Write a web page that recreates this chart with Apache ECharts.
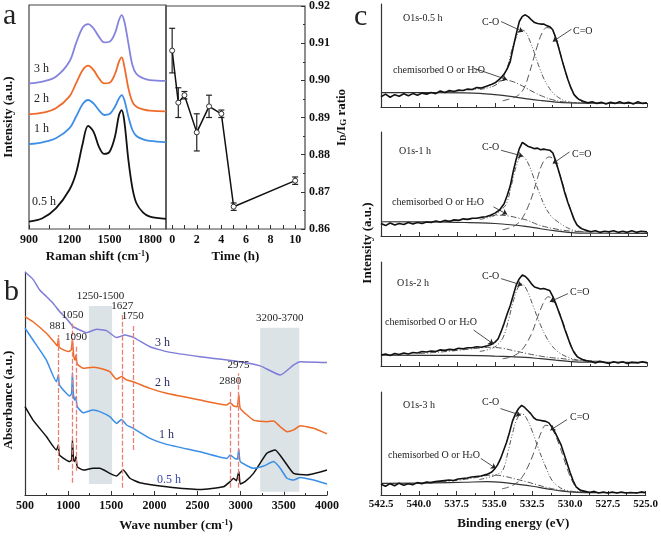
<!DOCTYPE html>
<html>
<head>
<meta charset="utf-8">
<script src="https://cdn.jsdelivr.net/npm/echarts@6/dist/echarts.min.js"></script>
<style>
html, body { margin: 0; padding: 0; background: #fff; }
#chart { width: 661px; height: 536px; }
</style>
</head>
<body>
<div id="chart"></div>
<script>
// panel a (left): Raman spectra, read at common shifts
const ramanShift = [900,1000,1100,1200,1250,1300,1340,1380,1420,1460,1500,1540,1570,1590,1610,1640,1670,1700,1750,1800,1920];
const raman05 = [3.3,4.8,9.2,17.4,24.9,38.2,46,43.5,36.8,33.5,34.5,41.2,50.9,53.1,47.9,30.8,18.2,11.5,7.3,5.5,4.5];
const raman1 = [37.9,38.7,40.5,44.9,50.1,55.8,57.6,56.1,53.1,50.9,51.3,54.6,58.3,59.8,57.6,50.1,44.2,41.5,40,39.3,38.7];
const raman2 = [51.2,51.9,53.9,59.1,65,71,72.9,71,67.3,65,65.3,69.2,74.7,76.6,72.5,62.8,56.8,54.6,53.4,52.8,52.5];
const raman3 = [65,65.8,68,74.7,82.9,90,91.5,89.6,85.9,83.3,83.6,87.4,93.3,95.5,92.6,82.9,73.2,69.2,67.3,66.5,66.1];
const ramanTicks = [900,1200,1500,1800];

// panel a (right): ID/IG ratio vs time
const timeH = [0,0.5,1,2,3,4,5,10];
const ratio = [0.908,0.894,0.896,0.886,0.893,0.891,0.866,0.873];
const ratioErr = [0.006,0.004,0.001,0.005,0.003,0.001,0.001,0.001];
const timeTicks = [0,2,4,6,8,10];

// panel b: FTIR, [wave number, absorbance]
const ftir3 = [[500,100],[593,96.7],[670,91.9],[748,89],[825,86],[903,82.2],[980,79.2],[1058,75.5],[1135,74],[1212,72.8],[1329,74.3],[1445,73.7],[1561,70.6],[1658,71.7],[1755,70.7],[1948,66.5],[2142,64.3],[2529,62],[2916,60.2],[3226,57.9],[3458,53.8],[3613,58.3],[3690,59.8],[4000,59.4]];
const ftir2 = [[500,80],[593,77.7],[748,72.5],[850,68],[875,66.8],[887,70.3],[900,66.2],[1000,64.3],[1035,65],[1050,69.8],[1065,62],[1080,60.5],[1090,62.8],[1105,58.8],[1174,56.8],[1290,57.3],[1367,56.8],[1483,55.3],[1561,51.9],[1619,53.1],[1677,51.6],[1754,50.8],[1948,47.8],[2141,45.6],[2529,42.6],[2839,40.4],[2877,41.4],[2920,39.9],[2960,39.6],[2978,44.9],[2995,38.9],[3148,33.6],[3303,32.9],[3381,33.2],[3458,30.6],[3536,28.4],[3613,29.2],[3690,31.1],[3845,29.9],[4000,27.4]];
const ftir1 = [[500,74.8],[593,69.5],[748,60.5],[864,50.8],[887,53.8],[900,49.3],[1019,44.4],[1040,45.6],[1050,54.9],[1062,44.9],[1075,42.6],[1090,43.8],[1105,39.6],[1174,36.9],[1290,38.1],[1367,37.4],[1483,35.1],[1561,32.1],[1619,33.9],[1677,31.4],[1754,29.9],[1948,25.4],[2141,22.7],[2529,19.4],[2839,16.4],[2877,17.9],[2930,16.4],[2960,16],[2978,20.5],[2995,15],[3148,12],[3265,13],[3381,15],[3458,12],[3536,7.5],[3613,6.7],[3690,7.9],[3845,6.7],[4000,4.9]];
const ftir05 = [[500,39.6],[593,33.6],[748,26.2],[864,20.2],[887,22.4],[900,17.9],[1019,15],[1040,15.7],[1050,24.7],[1062,15.7],[1075,15],[1090,17.2],[1105,12.7],[1174,11.2],[1290,12],[1367,12],[1483,9.7],[1561,8.5],[1638,11.2],[1716,7.5],[1832,5.5],[2141,3.7],[2529,2.5],[2800,3.7],[2877,6],[2916,7.5],[2950,6.4],[2978,10.5],[2995,4.9],[3050,6],[3148,9.7],[3303,18.7],[3400,20.2],[3497,15.7],[3613,9.7],[3768,9],[4000,11.2]];
const peakLines = [881,1050,1090,1627,1750,2880,2975];
const peakTop = [71.8,77,66.8,80.7,76.2,47.1,54.6];
const peakBottom = [11.2,5.5,10.9,3.3,20.2,3.3,3.3];
const bandNames = ['1250-1500','3200-3700'];
const bandX = [[1240,1510],[3226,3679]];
const bandY = [[4.9,84.8],[1.5,75]];

// panel c: O1s XPS, [binding energy, intensity]
const raw05 = [[542.5,10],[542.2,12.5],[541.9,9.5],[541.6,12],[541.3,10.5],[541,12.8],[540.7,11],[540.4,13],[540.1,11.5],[539.8,13.5],[539.5,12.5],[539.2,14],[538.9,13],[538.6,15.5],[538.3,14],[538,16],[537.7,15],[537.4,16.5],[537.1,16],[536.8,17.5],[536.5,17],[536.2,19],[535.9,18.5],[535.6,20],[535.3,21.5],[535,23.5],[534.7,27],[534.4,32],[534.2,37],[534,44],[533.8,58],[533.6,71],[533.4,83],[533.2,88],[533,89.5],[532.8,87.5],[532.6,84.5],[532.4,82],[532.2,81],[532,80.5],[531.8,80.5],[531.6,79],[531.4,78],[531.2,75],[531,67],[530.8,57],[530.6,46],[530.4,36],[530.2,26.5],[530,18.5],[529.8,12],[529.5,7.5],[529.2,5.5],[528.9,4],[528.6,5],[528.3,3.5],[528,4.5],[527.7,3],[527.4,4.5],[527.1,3.5],[526.8,5],[526.5,3.5],[526.2,4.5],[525.9,3],[525.6,5],[525.3,3.5],[525,4]];
const co05 = [[536,17],[535.5,18.5],[535,21],[534.6,26],[534.2,38],[533.9,55],[533.6,68],[533.3,75],[533,73],[532.7,64],[532.4,52],[532.1,39],[531.8,28],[531.5,20],[531.2,14],[530.8,9],[530.4,6],[530,4.5],[529.5,4],[529,3.8]];
const ceq05 = [[534.5,6],[534,8],[533.5,11],[533.1,18],[532.8,30],[532.5,45],[532.2,60],[531.9,72],[531.6,77],[531.3,76],[531,67],[530.7,52],[530.4,36],[530.1,22],[529.8,12],[529.5,7],[529.1,4.5],[528.5,3.8]];
const chem05 = [[539,14],[538,15],[537,16.2],[536,18],[535.3,21.5],[534.7,25],[534.3,26],[533.9,25],[533.4,22],[532.9,18],[532.4,14],[531.8,10],[531.2,7],[530.5,5],[529.5,4],[528.5,3.8]];
const bg05 = [[542.5,14],[539,14],[537,13.8],[536,13.3],[535,12],[534,10.3],[533,8.2],[532,6.3],[531,4.8],[530,4],[529,3.7],[525,3.6]];

const raw1 = [[542.5,12],[542.2,10],[541.9,12.5],[541.6,10.5],[541.3,12],[541,11],[540.7,13],[540.4,11.5],[540.1,13],[539.8,12],[539.5,13.5],[539.2,13],[538.9,14.5],[538.6,13.5],[538.3,15],[538,14],[537.7,15.5],[537.4,15],[537.1,16.5],[536.8,16],[536.5,17],[536.2,17],[535.9,18],[535.6,18.5],[535.3,20],[535,22],[534.7,25],[534.4,31],[534.2,39],[534,48],[533.8,62],[533.6,74],[533.4,84],[533.2,90],[533,88],[532.8,86],[532.6,85],[532.4,84],[532.2,84.5],[532,83],[531.8,83.5],[531.6,83],[531.4,82.5],[531.2,80],[531,72],[530.8,62],[530.6,52],[530.4,41],[530.2,32],[530,24],[529.8,16],[529.6,10.5],[529.3,7],[529,5.5],[528.7,4],[528.4,5],[528.1,3.5],[527.8,4.5],[527.5,4],[527.2,5],[526.9,3.5],[526.6,4.5],[526.3,3.5],[526,5],[525.7,3.5],[525.4,4.5],[525,4]];
const co1 = [[536,16],[535.5,17.5],[535,20],[534.6,25],[534.25,31],[533.9,50],[533.6,67],[533.25,77],[532.9,72],[532.5,58],[532.1,42],[531.7,28],[531.3,19],[530.9,14],[530.5,10],[530.1,7],[529.7,5],[529.2,4.3]];
const ceq1 = [[534.5,6],[534,8],[533.5,12],[533.15,18.5],[532.8,29],[532.5,41],[532.2,56],[531.9,69],[531.6,75],[531.4,76],[531.1,72],[530.8,62],[530.5,48],[530.2,33],[529.9,20],[529.6,11],[529.3,6],[529,4.5],[528.5,4]];
const chem1 = [[539,13.5],[538,14.5],[537.3,15.3],[536.3,17],[535.5,18.8],[534.7,20],[534,19],[533.4,17],[532.9,15.3],[532.2,11],[531.6,8.5],[531.2,7.3],[530.5,5.5],[529.8,4.5],[529,4]];
const bg1 = [[542.5,13.7],[539,13.5],[537,13],[536,12.7],[535,12],[534,10.8],[533,9.2],[532,7],[531,5],[530,3.3],[529,2.7],[525,2.6]];

const raw2 = [[542.5,10.5],[542.2,11.5],[541.9,10],[541.6,12],[541.3,11],[541,12.5],[540.7,11.5],[540.4,13],[540.1,12.5],[539.8,14],[539.5,13.5],[539.2,14.5],[538.9,14],[538.6,15.5],[538.3,15],[538,16],[537.7,15.5],[537.4,17],[537.1,16.5],[536.8,17.5],[536.5,17.5],[536.2,18.5],[535.9,18],[535.5,19.5],[535.2,21],[535,23],[534.8,26],[534.6,33],[534.4,41],[534.2,50],[534,58],[533.8,68],[533.6,78],[533.4,84],[533.2,87.5],[533,86],[532.8,83],[532.6,79],[532.4,76],[532.2,75],[532,74],[531.8,74.5],[531.6,73.5],[531.4,72.5],[531.2,67],[531,60],[530.8,52],[530.6,44],[530.4,35],[530.2,27],[530,19],[529.8,13],[529.6,9],[529.3,6.5],[529,5],[528.7,4.5],[528.4,3],[528.1,4.5],[527.8,3.5],[527.5,2.5],[527.2,4],[526.9,3],[526.6,4],[526.3,2.5],[526,3.5],[525.6,3],[525.3,4],[525,3]];
const co2 = [[536,14],[535.4,16],[534.9,19.5],[534.45,28],[534.1,45],[533.8,62],[533.5,75],[533.25,79],[532.9,73],[532.5,58],[532.05,41],[531.6,27],[531.2,18.5],[530.8,13],[530.3,9],[529.8,6.5],[529.2,5],[528.5,4.5]];
const ceq2 = [[534.5,7],[534,8.5],[533.5,12],[533.15,17],[532.8,25],[532.5,34.5],[532.2,47],[531.9,58],[531.7,64],[531.5,66.5],[531.2,64],[530.9,56],[530.6,45],[530.3,32],[530,20],[529.7,12],[529.4,7.5],[529,5.5],[528.5,4.5]];
const chem2 = [[540,12],[539,13],[538,14.2],[537.3,15.3],[536.3,16.8],[535.3,18],[534.5,17],[533.7,14.5],[532.9,12],[532,9.5],[531.3,8],[530.7,7.3],[530,6],[529,5],[528,4.5]];
const bg2 = [[542.5,10.5],[538,10.2],[536,10],[535,9.5],[534,9],[533,8.3],[532,7],[531,5.6],[530,4.3],[529,3.7],[525,3.5]];

const raw3 = [[542.5,10.5],[542.2,8.5],[541.9,11],[541.6,9],[541.3,11.5],[541,9.5],[540.7,11],[540.4,10],[540.1,12],[539.8,11],[539.5,12.5],[539.2,12],[538.9,13],[538.6,13.5],[538.3,14],[538,14.5],[537.7,14],[537.4,15.5],[537.1,16],[536.8,16.5],[536.5,17.5],[536.2,18],[535.9,18.5],[535.5,20],[535.2,22],[535,25],[534.8,29],[534.6,35],[534.4,43],[534.2,51],[534,61],[533.8,72],[533.6,79],[533.4,84],[533.2,87],[533,85],[532.8,82],[532.6,79],[532.4,75],[532.2,73],[532,72.5],[531.8,72],[531.6,71.5],[531.4,70],[531.2,66],[531,61],[530.8,55],[530.6,49],[530.4,40],[530.2,31],[530,22],[529.8,14],[529.6,8],[529.3,4.5],[529,3.5],[528.7,2.5],[528.4,3.5],[528.1,2],[527.8,3],[527.5,2],[527.2,3],[526.9,2],[526.6,3],[526.3,2],[526,2.5],[525.6,2],[525.3,3],[525,2.3]];
const co3 = [[536,15],[535.4,17],[534.9,19.5],[534.45,24],[534.1,42],[533.8,60],[533.5,74],[533.2,79],[532.9,75],[532.5,62],[532.05,43.5],[531.6,27],[531.2,14.5],[530.8,8.5],[530.3,4.8],[529.8,3.5],[529,3]];
const ceq3 = [[534.5,6],[534,8],[533.5,12],[533.15,17.7],[532.8,27],[532.5,37],[532.2,49],[531.9,61],[531.6,67.7],[531.3,66],[531,59],[530.7,48],[530.4,35],[530.1,22],[529.8,12],[529.5,6],[529.1,3.5],[528.5,2.8]];
const chem3 = [[540,11.5],[539,12.5],[538,13.5],[537.3,14.5],[536.2,17],[535.1,19.4],[534.3,18],[533.6,15.5],[532.9,13],[532.2,10],[531.4,6.8],[530.7,4.8],[530,3.5],[529,2.8]];
const bg3 = [[542.5,11.3],[539,11.8],[537,12.4],[535.5,12.9],[534.5,12.3],[533.5,10.5],[532.5,8.5],[531.5,6],[530.5,3.8],[529.5,2.6],[528.5,2.3],[525,2.3]];

// arrows in panel c: [from eV, from I, to eV, to I]
const arrows05 = [[534.6,83,533.15,73],[529.97,75.5,531.2,63.5],[536.4,37.7,534.2,26.5]];
const arrows1 = [[534.6,82.4,533.15,76.7],[530.1,80.8,531.2,69.6],[535.1,28,534.2,20.8]];
const arrows2 = [[534.6,84,533.2,77.6],[530.2,69.6,531.4,61.7],[536.4,34.5,535.1,21]];
const arrows3 = [[534.6,83.9,533.25,77.4],[530.2,73.2,531.3,62.9],[535.9,35.5,534.9,25.8]];
const xpsTitles = ['O1s-0.5 h','O1s-1 h','O1s-2 h','O1s-3 h'];

const FONT = 'Liberation Serif';
const tickFont = { fontFamily: FONT, fontWeight: 'bold', fontSize: 12, color: '#111' };
const nameFont = { fontFamily: FONT, fontWeight: 'bold', fontSize: 13, color: '#111',
  rich: { sup: { fontFamily: FONT, fontWeight: 'bold', fontSize: 8, verticalAlign: 'top', color: '#111' },
          sub: { fontFamily: FONT, fontWeight: 'bold', fontSize: 9, verticalAlign: 'bottom', color: '#111' } } };
const axisCol = '#333';

const chart = echarts.init(document.getElementById('chart'));

function pairs(xs, ys) { return xs.map((x, i) => [x, ys[i]]); }
const plain = v => String(v);

function errBar(params, api) {
  const x = api.value(0);
  const lo = api.coord([x, api.value(1)]);
  const hi = api.coord([x, api.value(2)]);
  const w = 3;
  const st = { stroke: '#222', lineWidth: 1.2 };
  return { type: 'group', children: [
    { type: 'line', shape: { x1: lo[0], y1: lo[1], x2: hi[0], y2: hi[1] }, style: st },
    { type: 'line', shape: { x1: lo[0] - w, y1: lo[1], x2: lo[0] + w, y2: lo[1] }, style: st },
    { type: 'line', shape: { x1: hi[0] - w, y1: hi[1], x2: hi[0] + w, y2: hi[1] }, style: st }
  ] };
}

const grids = [
  { left: 29, top: 5, width: 137, height: 224, show: true, borderColor: '#444', borderWidth: 1.2 },
  { left: 166, top: 5, width: 139, height: 224, show: true, borderColor: '#444', borderWidth: 1.2 },
  { left: 25, top: 272, width: 302, height: 223 },
  { left: 381, top: 4, width: 266, height: 103 },
  { left: 381, top: 132, width: 266, height: 104 },
  { left: 381, top: 262, width: 266, height: 104 },
  { left: 381, top: 392, width: 266, height: 103 }
];

const inTick = { show: true, inside: true, length: 4, lineStyle: { color: axisCol } };
const inMinor = { show: true, splitNumber: 2, length: 2, lineStyle: { color: axisCol } };

const xAxes = [
  { gridIndex: 0, type: 'value', min: 900, max: 1920,
    axisLine: { show: false, onZero: false }, splitLine: { show: false },
    axisTick: Object.assign({}, inTick, { customValues: [900, 1050, 1200, 1350, 1500, 1650, 1800] }),
    axisLabel: Object.assign({ customValues: ramanTicks, margin: 5, formatter: plain }, tickFont),
    name: 'Raman shift (cm{sup|-1})', nameLocation: 'middle', nameGap: 21, nameTextStyle: nameFont },
  { gridIndex: 1, type: 'value', min: -0.5, max: 10.8,
    axisLine: { show: false, onZero: false }, splitLine: { show: false },
    axisTick: Object.assign({}, inTick, { customValues: [0, 1, 2, 3, 4, 5, 6, 7, 8, 9, 10] }),
    axisLabel: Object.assign({ customValues: timeTicks, margin: 5, formatter: plain }, tickFont),
    name: 'Time (h)', nameLocation: 'middle', nameGap: 21, nameTextStyle: nameFont },
  { gridIndex: 2, type: 'value', min: 500, max: 4000, interval: 500,
    axisLine: { show: true, onZero: false, lineStyle: { color: axisCol, width: 1.2 } },
    splitLine: { show: false }, axisTick: inTick, minorTick: inMinor,
    axisLabel: Object.assign({ margin: 5, formatter: plain }, tickFont),
    name: 'Wave number (cm{sup|-1})', nameLocation: 'middle', nameGap: 24, nameTextStyle: nameFont }
];
for (let k = 0; k < 4; k++) {
  const last = k === 3;
  xAxes.push({ gridIndex: 3 + k, type: 'value', inverse: true, min: 525, max: 542.5, interval: 2.5,
    axisLine: { show: true, onZero: false, lineStyle: { color: axisCol, width: 1.2 } },
    splitLine: { show: false }, axisTick: inTick, minorTick: inMinor,
    axisLabel: Object.assign({ show: last, margin: 4, formatter: v => v.toFixed(1) }, tickFont, { fontSize: 11 }),
    name: last ? 'Binding energy (eV)' : '', nameLocation: 'middle', nameGap: 22, nameTextStyle: nameFont });
}

const yAxes = [
  { gridIndex: 0, type: 'value', min: 0, max: 100, axisLine: { show: false, onZero: false }, axisTick: { show: false },
    axisLabel: { show: false }, splitLine: { show: false },
    name: 'Intensity (a.u.)', nameLocation: 'middle', nameGap: 14, nameTextStyle: nameFont },
  { gridIndex: 1, type: 'value', position: 'right', min: 0.86, max: 0.92, interval: 0.01,
    axisLine: { show: false, onZero: false }, splitLine: { show: false },
    axisTick: inTick, minorTick: inMinor,
    axisLabel: Object.assign({ margin: 4, formatter: v => v.toFixed(2) }, tickFont),
    name: 'I{sub|D}/I{sub|G} ratio', nameLocation: 'middle', nameRotate: 90, nameGap: 30, nameTextStyle: nameFont },
  { gridIndex: 2, type: 'value', min: 0, max: 100,
    axisLine: { show: true, onZero: false, lineStyle: { color: axisCol, width: 1.2 } },
    axisTick: { show: false }, axisLabel: { show: false }, splitLine: { show: false } }
];
for (let k = 0; k < 4; k++) {
  yAxes.push({ gridIndex: 3 + k, type: 'value', min: 0, max: 100,
    axisLine: { show: true, onZero: false, lineStyle: { color: axisCol, width: 1.2 } },
    axisTick: { show: false }, axisLabel: { show: false }, splitLine: { show: false } });
}

const series = [];
// panel a left
[[raman05, '#111111'], [raman1, '#3d8ee6'], [raman2, '#f06a2a'], [raman3, '#8484de']].forEach(([vals, col]) => {
  series.push({ type: 'line', xAxisIndex: 0, yAxisIndex: 0, data: pairs(ramanShift, vals),
    smooth: 0.35, showSymbol: false, lineStyle: { color: col, width: 1.8 } });
});
// panel a right
series.push({ type: 'custom', xAxisIndex: 1, yAxisIndex: 1, renderItem: errBar, z: 2,
  data: timeH.map((t, i) => [t, ratio[i] - ratioErr[i], ratio[i] + ratioErr[i]]) });
series.push({ type: 'line', xAxisIndex: 1, yAxisIndex: 1, data: pairs(timeH, ratio), z: 3,
  symbol: 'circle', symbolSize: 5, lineStyle: { color: '#111', width: 1.5 },
  itemStyle: { color: '#fff', borderColor: '#333', borderWidth: 1 } });
// panel b bands and peak lines
series.push({ type: 'line', xAxisIndex: 2, yAxisIndex: 2, data: [], z: 1, silent: true,
  markArea: { silent: true, itemStyle: { color: '#dce3e6' },
    label: { show: true, position: 'top', distance: 4, fontFamily: FONT, fontSize: 11, color: '#222' },
    data: bandNames.map((n, i) => [{ name: n, coord: [bandX[i][0], bandY[i][1]] }, { coord: [bandX[i][1], bandY[i][0]] }]) } });
[[ftir05, '#111111'], [ftir1, '#3a8ee8'], [ftir2, '#ee6a25'], [ftir3, '#7e7cd8']].forEach(([d, col]) => {
  series.push({ type: 'line', xAxisIndex: 2, yAxisIndex: 2, data: d, z: 2,
    smooth: 0.15, showSymbol: false, lineStyle: { color: col, width: 1.5 } });
});
series.push({ type: 'line', xAxisIndex: 2, yAxisIndex: 2, data: [], z: 3, silent: true,
  markLine: { silent: true, symbol: ['none', 'none'],
    lineStyle: { color: '#e8807a', width: 1.3, type: [5, 2] },
    label: { show: true, position: 'end', distance: 3, formatter: '{b}', fontFamily: FONT, fontSize: 11, color: '#222' },
    data: peakLines.map((w, i) => [{ name: String(w), coord: [w, peakBottom[i]] }, { coord: [w, peakTop[i]] }]) } });
// panel c
const xpsSets = [
  [raw05, co05, ceq05, chem05, bg05, arrows05],
  [raw1, co1, ceq1, chem1, bg1, arrows1],
  [raw2, co2, ceq2, chem2, bg2, arrows2],
  [raw3, co3, ceq3, chem3, bg3, arrows3]
];
xpsSets.forEach(([raw, co, ceq, chem, bg, arr], k) => {
  const ax = { xAxisIndex: 3 + k, yAxisIndex: 3 + k, showSymbol: false };
  series.push(Object.assign({ type: 'line', data: bg, smooth: 0.4, lineStyle: { color: '#333', width: 1.2 } }, ax));
  series.push(Object.assign({ type: 'line', data: chem, smooth: 0.4, lineStyle: { color: '#555', width: 1, type: [6, 2, 1, 2] } }, ax));
  series.push(Object.assign({ type: 'line', data: ceq, smooth: 0.4, lineStyle: { color: '#555', width: 1, type: [7, 4] } }, ax));
  series.push(Object.assign({ type: 'line', data: co, smooth: 0.4, lineStyle: { color: '#555', width: 1, type: [5, 2, 1, 2, 1, 2] } }, ax));
  series.push(Object.assign({ type: 'line', data: raw, lineStyle: { color: '#111', width: 1.6 },
    markLine: { silent: true, symbol: ['none', 'arrow'], symbolSize: 5, label: { show: false },
      lineStyle: { color: '#222', width: 0.8, type: 'solid' },
      data: arr.map(a => [{ coord: [a[0], a[1]] }, { coord: [a[2], a[3]] }]) } }, ax));
});

function txt(x, y, s, size, opts) {
  return { type: 'text', x: x, y: y, style: Object.assign({ text: s, fontFamily: FONT, fontSize: size,
    fill: '#222', align: 'left', verticalAlign: 'middle' }, opts || {}) };
}
function vtxt(x, y, s) {
  return { type: 'text', x: x, y: y, rotation: Math.PI / 2,
    style: { text: s, fontFamily: FONT, fontWeight: 'bold', fontSize: 13, fill: '#111', align: 'center', verticalAlign: 'middle' } };
}
const h2oRich = { s: { fontFamily: FONT, fontSize: 7, verticalAlign: 'bottom', fill: '#222' } };
const cTitlePos = [[403, 18], [399, 151], [397, 283], [403, 405]];
const cCOPos = [[482, 22], [482, 147], [482, 276], [482, 402]];
const cCEqPos = [[573, 31], [572, 154], [570, 292], [570, 417]];
const cChemPos = [[393, 70], [392, 202], [385, 322], [388, 455]];

const graphics = [
  txt(3, 16, 'a', 30), txt(4, 292, 'b', 30), txt(354, 17, 'c', 30),
  txt(34, 69, '3 h', 12), txt(34, 99, '2 h', 12), txt(34, 129, '1 h', 12), txt(32, 202, '0.5 h', 12),
  txt(155, 343, '3 h', 12, { fill: '#2c2c60' }), txt(155, 383, '2 h', 12, { fill: '#2c2c60' }),
  txt(159, 435, '1 h', 12, { fill: '#2c2c60' }), txt(157, 480, '0.5 h', 12, { fill: '#3a4ab0' }),
  vtxt(9, 400, 'Absorbance (a.u.)'),
  vtxt(368, 243, 'Intensity (a.u.)')
];
for (let k = 0; k < 4; k++) {
  graphics.push(txt(cTitlePos[k][0], cTitlePos[k][1], xpsTitles[k], 10));
  graphics.push(txt(cCOPos[k][0], cCOPos[k][1], 'C-O', 10));
  graphics.push(txt(cCEqPos[k][0], cCEqPos[k][1], 'C=O', 10));
  graphics.push(txt(cChemPos[k][0], cChemPos[k][1], 'chemisorbed O or H{s|2}O', 10, { rich: h2oRich }));
}

chart.setOption({
  animation: false,
  backgroundColor: '#fff',
  textStyle: { fontFamily: FONT },
  grid: grids,
  xAxis: xAxes,
  yAxis: yAxes,
  series: series,
  graphic: graphics
});
</script>
</body>
</html>
